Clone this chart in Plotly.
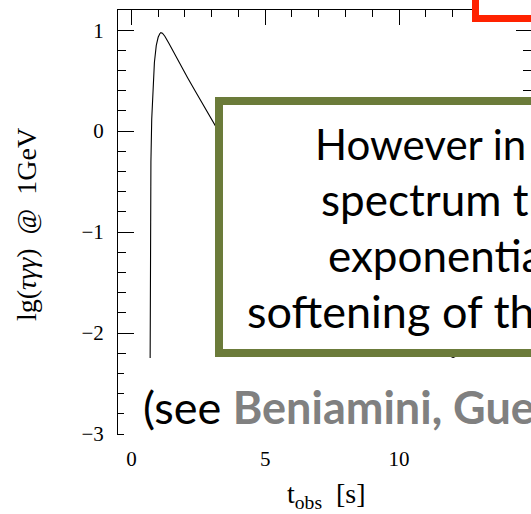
import plotly.graph_objects as go

# Light curve of the pair-production optical depth at 1 GeV
t_obs = [0.69, 0.695, 0.70, 0.71, 0.73, 0.76, 0.80, 0.86, 0.93, 1.00, 1.06, 1.10,
         1.16, 1.25, 1.40, 1.60, 1.85, 2.10, 2.40, 2.70, 3.00, 3.30, 3.80, 4.50,
         5.50, 6.50, 7.50, 8.50, 9.50, 10.5, 11.5, 12.0, 12.5, 13.5, 14.5, 15.0]
lg_tau = [-3.0, -2.4, -1.6, -0.9, -0.3, 0.12, 0.40, 0.68, 0.85, 0.93, 0.965, 0.975,
          0.97, 0.94, 0.87, 0.77, 0.65, 0.53, 0.39, 0.25, 0.11, -0.03, -0.25, -0.55,
          -0.90, -1.20, -1.47, -1.70, -1.90, -2.06, -2.18, -2.24, -2.30, -2.42, -2.53, -2.58]

x_range = [-0.5, 14.93]
y_range = [-3.0, 1.2]

box_lines = ["However in the", "spectrum the", "exponential", "softening of the"]
box_line_x = [313, 319, 326, 245]
box_line_size = [42, 44, 44, 45]
box_line_baseline = [160, 216, 272, 328]

# Figure geometry (pixels)
W, H = 531, 514
L, R, T, B = 118, 531, 10, 434


def px(X):
    return (X - L) / (R - L)


def py(Y):
    return (B - Y) / (B - T)


serif = "Liberation Serif, DejaVu Serif, serif"
sans = "Lato, Open Sans, sans-serif"

fig = go.Figure()
fig.add_trace(go.Scatter(x=t_obs, y=lg_tau, mode="lines",
                         line=dict(color="black", width=1.1),
                         showlegend=False, hoverinfo="skip"))
# invisible companion trace for the right-hand tick axis
fig.add_trace(go.Scatter(x=[None], y=[None], yaxis="y2", mode="lines",
                         showlegend=False, hoverinfo="skip"))

common_minor_y = dict(dtick=0.2, ticks="inside", ticklen=8, tickcolor="black", tickwidth=1)

fig.update_layout(
    width=W, height=H,
    margin=dict(l=L, r=W - R, t=T, b=H - B),
    paper_bgcolor="white", plot_bgcolor="white",
    xaxis=dict(range=x_range, showgrid=False, zeroline=False,
               showline=True, linecolor="black", linewidth=1, mirror="ticks",
               ticks="inside", ticklen=15, tickwidth=1, tickcolor="black",
               tick0=0, dtick=5, ticklabelstandoff=6,
               minor=dict(dtick=1, ticks="inside", ticklen=7, tickcolor="black", tickwidth=1),
               tickfont=dict(family=serif, size=21, color="black")),
    yaxis=dict(range=y_range, showgrid=False, zeroline=False,
               showline=True, linecolor="black", linewidth=1, mirror=False,
               ticks="inside", ticklen=16, tickwidth=1, tickcolor="black",
               tick0=0, dtick=1, ticklabelstandoff=9,
               minor=common_minor_y,
               tickfont=dict(family=serif, size=21, color="black")),
    yaxis2=dict(range=y_range, overlaying="y", side="right", anchor="x",
                showgrid=False, zeroline=False, showline=False,
                ticks="inside", ticklen=15, tickwidth=1, tickcolor="black",
                tick0=0, dtick=1, showticklabels=False,
                minor=common_minor_y),
)

shapes = [
    # white panel behind the citation line
    dict(type="rect", xref="paper", yref="paper",
         x0=px(124), x1=px(620), y0=py(358), y1=py(442),
         line=dict(width=0), fillcolor="white", layer="above"),
    # olive text box
    dict(type="rect", xref="paper", yref="paper",
         x0=px(219), x1=px(640), y0=py(101), y1=py(353),
         line=dict(color="#6B7B3A", width=8), fillcolor="white", layer="above"),
    # red frame at the top right
    dict(type="rect", xref="paper", yref="paper",
         x0=px(475.5), x1=px(640), y0=py(-30), y1=py(18.5),
         line=dict(color="#FF2200", width=7), fillcolor="white", layer="above"),
]
fig.update_layout(shapes=shapes)

annotations = []
for text, x0, size, base in zip(box_lines, box_line_x, box_line_size, box_line_baseline):
    annotations.append(dict(xref="paper", yref="paper", x=px(x0), y=py(base - 0.387 * size),
                            xanchor="left", yanchor="middle", showarrow=False, text=text,
                            font=dict(family=sans, size=size, color="black")))
size_see = 45
annotations.append(dict(xref="paper", yref="paper", x=px(141), y=py(424 - 0.387 * size_see),
                        xanchor="left", yanchor="middle", showarrow=False,
                        text="(see <b><span style='color:#808080'>Beniamini, Guetta</span></b>",
                        font=dict(family=sans, size=size_see, color="black")))
# axis titles
annotations.append(dict(xref="paper", yref="paper", x=px(26), y=py(225),
                        xanchor="center", yanchor="middle", showarrow=False, textangle=-90,
                        text="lg(<i>τγγ</i>)&nbsp;&nbsp;@&nbsp;&nbsp;1GeV",
                        font=dict(family=serif, size=28, color="black")))
annotations.append(dict(xref="paper", yref="paper", x=px(326), y=py(495),
                        xanchor="center", yanchor="middle", showarrow=False,
                        text="t<sub>obs</sub>&nbsp;&nbsp;[s]",
                        font=dict(family=serif, size=28, color="black")))
fig.update_layout(annotations=annotations)

fig.write_html("out.html")
